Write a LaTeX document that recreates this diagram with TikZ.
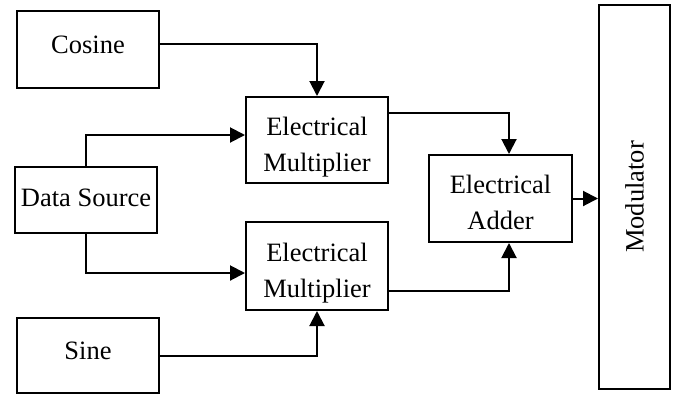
\documentclass[tikz,border=0pt]{standalone}
\usepackage{fontspec}
\setmainfont{Liberation Serif}
\usetikzlibrary{arrows.meta}
\newcommand\twolines[2]{\begin{tabular}{@{}c@{}}#1\\#2\end{tabular}}
\newcommand\shiftup[2]{\raisebox{#1}[\height][\depth]{#2}}
\begin{document}
\begin{tikzpicture}[x=1pt,y=-1pt,
  blk/.style={draw,line width=2pt,rectangle,inner sep=0pt,align=center,
    font=\fontsize{26.5}{36}\selectfont},
  arr/.style={line width=2pt,-{Triangle[length=15pt,width=15pt]}}]
\useasboundingbox (0,0) rectangle (676,394);
\node[blk,minimum width=142pt,minimum height=77pt] (cos) at (88,49.5) {\shiftup{5pt}{Cosine}};
\node[blk,minimum width=142pt,minimum height=75pt] (sine) at (88,355.5) {\shiftup{5pt}{Sine}};
\node[blk,minimum width=142pt,minimum height=66pt] (data) at (86,200) {\shiftup{2.5pt}{Data Source}};
\node[blk,minimum width=142pt,minimum height=86pt] (mul1) at (317,140) {\shiftup{-6pt}{\twolines{Electrical}{Multiplier}}};
\node[blk,minimum width=142pt,minimum height=88pt] (mul2) at (317,266) {\shiftup{-6pt}{\twolines{Electrical}{Multiplier}}};
\node[blk,minimum width=143pt,minimum height=87pt] (add) at (500.5,198.5) {\shiftup{-6pt}{\twolines{Electrical}{Adder}}};
\node[blk,minimum width=71pt,minimum height=384pt] (mod) at (634.5,197) {\rotatebox{90}{Modulator}};
\draw[arr] ([yshift=5.5pt]cos.east) -| (mul1.north);
\draw[arr] (data.north) |- ([yshift=5pt]mul1.west);
\draw[arr] (data.south) |- ([yshift=-7pt]mul2.west);
\draw[arr] (sine.east) -| (mul2.south);
\draw[arr] ([yshift=27pt]mul1.east) -| ([xshift=8.5pt]add.north);
\draw[arr] ([yshift=-25pt]mul2.east) -| ([xshift=8.5pt]add.south);
\draw[arr] (add.east) -- (add.east -| mod.west);
\end{tikzpicture}
\end{document}
